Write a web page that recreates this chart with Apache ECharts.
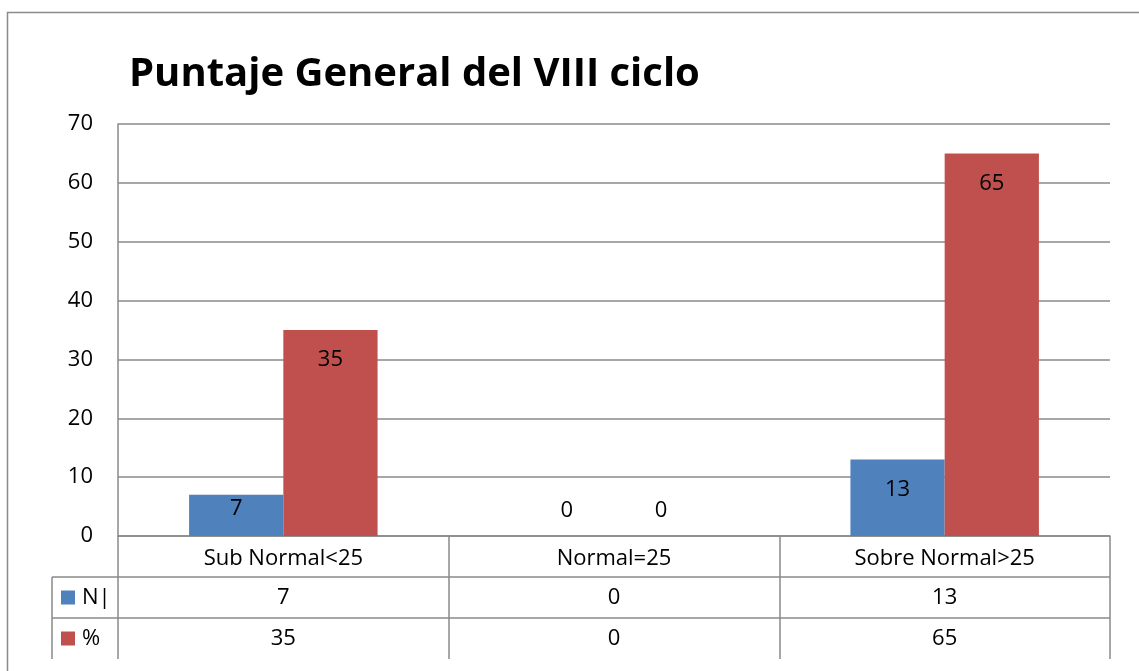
<!DOCTYPE html>
<html>
<head>
<meta charset="utf-8">
<script src="https://cdn.jsdelivr.net/npm/echarts@6/dist/echarts.min.js"></script>
<style>
  html, body { margin: 0; padding: 0; background: #fff; }
  #main { width: 1139px; height: 671px; }
</style>
</head>
<body>
<div id="main"></div>
<script>
// datos del grafico
var categories = ['Sub Normal<25', 'Normal=25', 'Sobre Normal>25'];
var seriesNames = ['N|', '%'];
var nValues = [7, 0, 13];
var pctValues = [35, 0, 65];
var yMin = 0, yMax = 70, yStep = 10;

var colors = ['#4F81BD', '#C0504D'];
var font = '"Open Sans", "Noto Sans", sans-serif';
var fs = 22;
var lineColor = '#8a8a8a';

var chart = echarts.init(document.getElementById('main'));

function barData(vals, pxPerUnit) {
  // etiqueta "extremo interno" como en Excel; los ceros van encima de la base
  return vals.map(function (v) {
    if (v === 0) return { value: v, label: { position: 'top', distance: 14 } };
    var h = v * pxPerUnit;
    return { value: v, label: { distance: Math.max(2, Math.min(19, h - 38)) } };
  });
}

var option = {
  animation: false,
  title: {
    text: 'Puntaje General del VIII ciclo',
    left: 124,
    top: 50,
    textStyle: { fontFamily: font, fontWeight: 'bold', fontSize: 40, color: '#000' }
  },
  grid: { left: 118, right: 29, top: 124, bottom: 135 },
  xAxis: {
    type: 'category',
    data: categories,
    axisLine: { lineStyle: { color: lineColor, width: 1.5 } },
    axisTick: { show: true, length: 123, interval: 0, lineStyle: { color: lineColor, width: 1.5 } },
    axisLabel: { fontFamily: font, fontSize: fs, color: '#000', margin: 12 }
  },
  yAxis: {
    type: 'value',
    min: yMin,
    max: yMax,
    interval: yStep,
    axisLine: { show: true, lineStyle: { color: lineColor, width: 1.5 } },
    axisTick: { show: false },
    axisLabel: { fontFamily: font, fontSize: fs, color: '#000', margin: 25 },
    splitLine: { lineStyle: { color: lineColor, width: 1.5 } }
  },
  series: [
    {
      name: seriesNames[0],
      type: 'bar',
      data: nValues,
      itemStyle: { color: colors[0] },
      barGap: '0%',
      barCategoryGap: '43%',
      label: { show: true, position: 'insideTop', distance: 19, fontFamily: font, fontSize: fs, color: '#000' }
    },
    {
      name: seriesNames[1],
      type: 'bar',
      data: pctValues,
      itemStyle: { color: colors[1] },
      barGap: '0%',
      barCategoryGap: '43%',
      label: { show: true, position: 'insideTop', distance: 19, fontFamily: font, fontSize: fs, color: '#000' }
    }
  ]
};

chart.setOption(option);

// tabla de datos debajo del eje
function drawTable() {
  var rowH = 41;
  var legendLeft = 52;
  var base = chart.convertToPixel({ yAxisIndex: 0 }, 0);
  var pxPerUnit = (base - chart.convertToPixel({ yAxisIndex: 0 }, yStep)) / yStep;
  var left = chart.convertToPixel({ xAxisIndex: 0 }, categories[0]);
  var step = chart.convertToPixel({ xAxisIndex: 0 }, categories[1]) - left;
  var plotLeft = left - step / 2;
  var plotRight = plotLeft + step * categories.length;
  var els = [];

  // marco exterior
  els.push({
    type: 'rect', silent: true,
    shape: { x: 7.5, y: 12.5, width: 1300, height: 900 },
    style: { fill: 'none', stroke: '#8a8a8a', lineWidth: 1.5 }
  });

  var rows = [nValues, pctValues];
  for (var r = 0; r < rows.length; r++) {
    var y0 = base + rowH * (r + 1);
    els.push({
      type: 'line', silent: true,
      shape: { x1: legendLeft, y1: y0, x2: plotRight, y2: y0 },
      style: { stroke: lineColor, lineWidth: 1.5 }
    });
    var yc = y0 + rowH / 2;
    els.push({
      type: 'rect', silent: true,
      shape: { x: 61, y: yc - 7, width: 14, height: 14 },
      style: { fill: colors[r] }
    });
    els.push({
      type: 'text', silent: true,
      x: 82, y: yc,
      style: { text: seriesNames[r], font: fs + 'px ' + font, fill: '#000', verticalAlign: 'middle' }
    });
    for (var c = 0; c < categories.length; c++) {
      els.push({
        type: 'text', silent: true,
        x: plotLeft + step * (c + 0.5), y: yc,
        style: { text: String(rows[r][c]), font: fs + 'px ' + font, fill: '#000', align: 'center', verticalAlign: 'middle' }
      });
    }
  }
  var yEnd = base + rowH * (rows.length + 1);
  els.push({
    type: 'line', silent: true,
    shape: { x1: legendLeft, y1: base + rowH, x2: legendLeft, y2: yEnd },
    style: { stroke: lineColor, lineWidth: 1.5 }
  });
  chart.setOption({
    graphic: els,
    series: [
      { data: barData(nValues, pxPerUnit) },
      { data: barData(pctValues, pxPerUnit) }
    ]
  });
}

drawTable();
</script>
</body>
</html>
